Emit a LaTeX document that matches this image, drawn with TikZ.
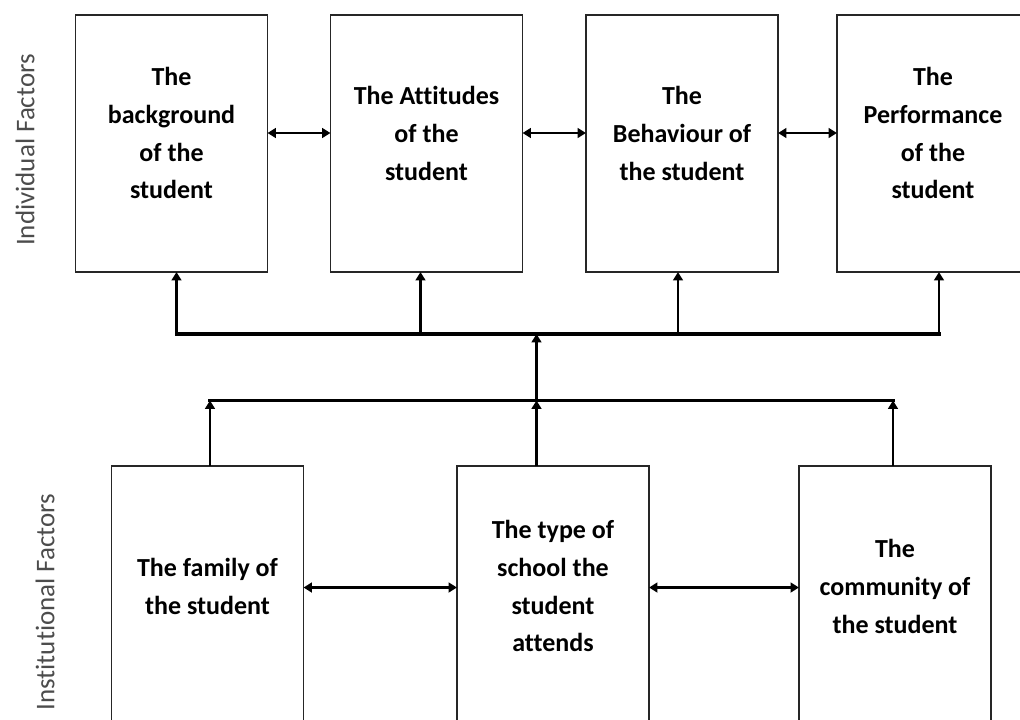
\documentclass[tikz,border=0pt]{standalone}
\usepackage{fontspec}
\setmainfont[Ligatures=CommonOff]{Carlito}
\usetikzlibrary{arrows.meta}
\begin{document}
\begin{tikzpicture}[x=0.025cm, y=-0.025cm,
            factor/.style={draw=black!85, line width=1.1pt, minimum width=136.6pt,
            minimum height=182.8pt, inner sep=0pt, outer sep=0pt},
            factortext/.style={align=center, inner sep=0pt,
            font=\fontsize{18.5}{27}\selectfont\bfseries},
            side/.style={rotate=90, text=black!70, font=\fontsize{19.2}{23}\selectfont},
            link/.style={{Triangle[length=6pt,width=7pt]}-{Triangle[length=6pt,width=7pt]}, line width=1.9pt},
            uplink/.style={-{Triangle[length=6pt,width=7pt]}, line width=2pt},
            bus/.style={line width=2.2pt, line cap=rect}]
            \clip (0,0) rectangle (1020,719);%
            % individual factors
            \node[factor] (bg) at (171.5,143.5) {};%
            \node[factor] (att) at (426.5,143.5) {};%
            \node[factor] (beh) at (682,143.5) {};%
            \node[factor] (perf) at (933,143.5) {};%
            \node[factortext] (bgtxt) at (171.5,133) {The\\background\\of the\\student};%
            \node[factortext] (atttxt) at (426.5,133) {The Attitudes\\of the\\student};%
            \node[factortext] (behtxt) at (682,133) {The\\Behaviour of\\the student};%
            \node[factortext] (perftxt) at (933,133) {The\\Performance\\of the\\student};%
            \node[side] (indiv) at (25,150) {Individual Factors};%
            % institutional factors
            \node[factor] (fam) at (207.5,594.5) {};%
            \node[factor] (school) at (553,594.5) {};%
            \node[factor] (comm) at (895,594.5) {};%
            \node[factortext] (famtxt) at (207.5,586) {The family of\\the student};%
            \node[factortext] (schooltxt) at (553,586) {The type of\\school the\\student\\attends};%
            \node[factortext] (commtxt) at (895,586) {The\\community of\\the student};%
            \node[side] (inst) at (45,602) {Institutional Factors};%
            % side arrows
            \draw[link] (bg.east |- bgtxt.center) -- (att.west |- bgtxt.center);%
            \draw[link] (att.east |- bgtxt.center) -- (beh.west |- bgtxt.center);%
            \draw[link] (beh.east |- bgtxt.center) -- (perf.west |- bgtxt.center);%
            \draw[link] (fam.east |- 0,587.5) -- (school.west |- 0,587.5);%
            \draw[link] (school.east |- 0,587.5) -- (comm.west |- 0,587.5);%
            % buses
            \coordinate (t1) at (176.5,334);%
            \coordinate (t2) at (420.5,334);%
            \coordinate (t3) at (678,334);%
            \coordinate (t4) at (939,334);%
            \coordinate (b1) at (210,400.5);%
            \coordinate (b2) at (536.5,400.5);%
            \coordinate (b3) at (893,400.5);%
            \draw[bus] (t1) -- (t4);%
            \draw[bus] (b1) -- (b3);%
            \foreach \t/\n in {t1/bg, t2/att, t3/beh, t4/perf}
                \draw[uplink] (\t) -- (\t |- \n.south);
            \foreach \b/\n in {b1/fam, b2/school, b3/comm}
                \draw[uplink] (\b |- \n.north) -- (\b);
            \draw[uplink] (b2) -- (b2 |- t1);%
        \end{tikzpicture}
\end{document}
